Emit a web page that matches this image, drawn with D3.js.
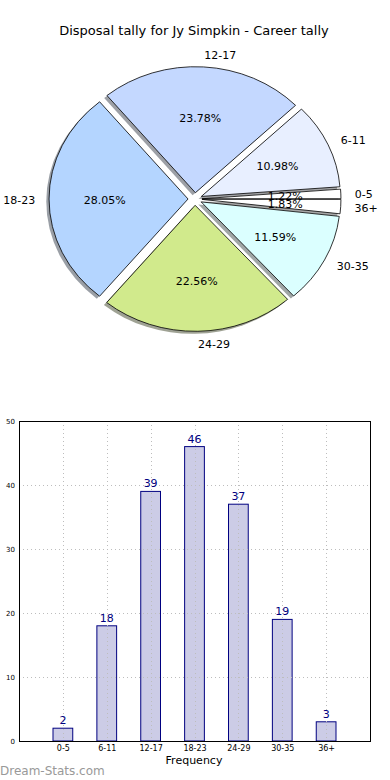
<!DOCTYPE html>
<html>
<head>
<meta charset="utf-8">
<script src="https://cdn.jsdelivr.net/npm/d3@7"></script>
<style>
  html, body { margin: 0; padding: 0; background: #fff; }
  svg { display: block; font-family: "DejaVu Sans", sans-serif; }
</style>
</head>
<body>
<svg id="chart" width="390" height="780"></svg>
<script>
// ---- data ----
const categories = ["0-5", "6-11", "12-17", "18-23", "24-29", "30-35", "36+"];
const counts = [2, 18, 39, 46, 37, 19, 3];
const sliceColors = ["#ffffff", "#e8efff", "#c4d8ff", "#b4d5ff", "#d1ea8c", "#dbffff", "#ffffff"];
const yTicks = [0, 10, 20, 30, 40, 50];
const titleText = "Disposal tally for Jy Simpkin - Career tally";
const xLabel = "Frequency";
const watermark = "Dream-Stats.com";

(function () {
const svg = d3.select("#chart");

// ---- title ----
svg.append("text")
  .attr("x", 194).attr("y", 31)
  .attr("text-anchor", "middle").attr("dominant-baseline", "middle")
  .attr("font-size", 13).attr("fill", "#000")
  .text(titleText);

// ---- pie ----
const cx = 195, cy = 199, rx = 139, ry = 126, R = 100;
const sx = rx / R, sy = ry / R;
const explode = 0.05;
const total = d3.sum(counts);
const textDy = 1.5;

const pie = d3.pie().sort(null).value(d => d)
  .startAngle(Math.PI / 2).endAngle(Math.PI / 2 - 2 * Math.PI);
const arcs = pie(counts);
const arc = d3.arc().innerRadius(0).outerRadius(R);

const mid = a => (a.startAngle + a.endAngle) / 2;
const pieG = svg.append("g").attr("transform", `translate(${cx},${cy}) scale(${sx},${sy})`);

// shadows
pieG.append("g").selectAll("path").data(arcs).join("path")
  .attr("transform", d => `translate(${explode * R * Math.sin(mid(d)) - 2},${-explode * R * Math.cos(mid(d)) + 2})`)
  .attr("d", arc)
  .attr("fill", (d, i) => { const c = d3.rgb(sliceColors[i]); return d3.rgb(c.r * 0.3, c.g * 0.3, c.b * 0.3); })
  .attr("fill-opacity", 0.5);

// wedges
pieG.append("g").selectAll("path").data(arcs).join("path")
  .attr("transform", d => `translate(${explode * R * Math.sin(mid(d))},${-explode * R * Math.cos(mid(d))})`)
  .attr("d", arc)
  .attr("fill", (d, i) => sliceColors[i])
  .attr("stroke", "#000").attr("stroke-width", 0.8)
  .attr("vector-effect", "non-scaling-stroke");

// category labels
svg.append("g").selectAll("text").data(arcs).join("text")
  .attr("x", d => cx + rx * (1.1 + explode) * Math.sin(mid(d)))
  .attr("y", d => cy - ry * (1.1 + explode) * Math.cos(mid(d)) + textDy)
  .attr("text-anchor", d => Math.sin(mid(d)) >= 0 ? "start" : "end")
  .attr("dominant-baseline", "middle")
  .attr("font-size", 11).attr("fill", "#000")
  .text((d, i) => categories[i]);

// percentage labels
svg.append("g").selectAll("text").data(arcs).join("text")
  .attr("x", d => cx + rx * (0.6 + explode) * Math.sin(mid(d)))
  .attr("y", d => cy - ry * (0.6 + explode) * Math.cos(mid(d)) + textDy)
  .attr("text-anchor", "middle")
  .attr("dominant-baseline", "middle")
  .attr("font-size", 11).attr("fill", "#000")
  .text(d => (d.value / total * 100).toFixed(2) + "%");

// ---- bar chart ----
const pLeft = 19, pRight = 370, pTop = 421, pBottom = 741;
const x = d3.scaleLinear().domain([0, categories.length + 1]).range([pLeft, pRight]);
const y = d3.scaleLinear().domain([0, 50]).range([pBottom, pTop]);
const barW = (x(1) - x(0)) * 0.45;

svg.append("g").selectAll("rect").data(counts).join("rect")
  .attr("x", (d, i) => x(i + 1) - barW / 2)
  .attr("y", d => y(d))
  .attr("width", barW)
  .attr("height", d => y(0) - y(d))
  .attr("fill", "#ccccE6")
  .attr("stroke", "#000080").attr("stroke-width", 1);

// grid
const gridG = svg.append("g").attr("stroke", "#bdbdbd").attr("stroke-width", 1)
  .attr("stroke-dasharray", "1,3");
gridG.selectAll("line.v").data(categories).join("line").attr("class", "v")
  .attr("x1", (d, i) => Math.round(x(i + 1)) + 0.5).attr("x2", (d, i) => Math.round(x(i + 1)) + 0.5)
  .attr("y1", pTop).attr("y2", pBottom);
gridG.selectAll("line.h").data(yTicks).join("line").attr("class", "h")
  .attr("x1", pLeft).attr("x2", pRight)
  .attr("y1", d => Math.round(y(d)) + 0.5).attr("y2", d => Math.round(y(d)) + 0.5);

// frame
svg.append("rect")
  .attr("x", pLeft + 0.5).attr("y", pTop + 0.5)
  .attr("width", pRight - pLeft).attr("height", pBottom - pTop)
  .attr("fill", "none").attr("stroke", "#000").attr("stroke-width", 1);

// value labels
svg.append("g").selectAll("text").data(counts).join("text")
  .attr("x", (d, i) => x(i + 1))
  .attr("y", d => y(d) - 4)
  .attr("text-anchor", "middle")
  .attr("font-size", 11).attr("fill", "#000080")
  .text(d => d);

// axes
const yAxis = svg.append("g").attr("transform", `translate(${pLeft},0)`)
  .call(d3.axisLeft(y).tickValues(yTicks).tickSize(0).tickPadding(4));
yAxis.select(".domain").remove();
yAxis.selectAll("text").attr("font-size", 7).attr("font-family", "DejaVu Sans, sans-serif").attr("fill", "#000");

const xAxis = svg.append("g").attr("transform", `translate(0,${pBottom})`)
  .call(d3.axisBottom(x).tickValues(d3.range(1, categories.length + 1))
    .tickFormat(d => categories[d - 1]).tickSize(0).tickPadding(4));
xAxis.select(".domain").remove();
xAxis.selectAll("text").attr("font-size", 8).attr("font-family", "DejaVu Sans, sans-serif").attr("fill", "#000");

svg.append("text")
  .attr("x", 194).attr("y", 764)
  .attr("text-anchor", "middle")
  .attr("font-size", 11).attr("fill", "#000")
  .text(xLabel);

svg.append("text")
  .attr("x", 0).attr("y", 775)
  .attr("font-size", 12).attr("fill", "#999999")
  .text(watermark);
})();
</script>
</body>
</html>
